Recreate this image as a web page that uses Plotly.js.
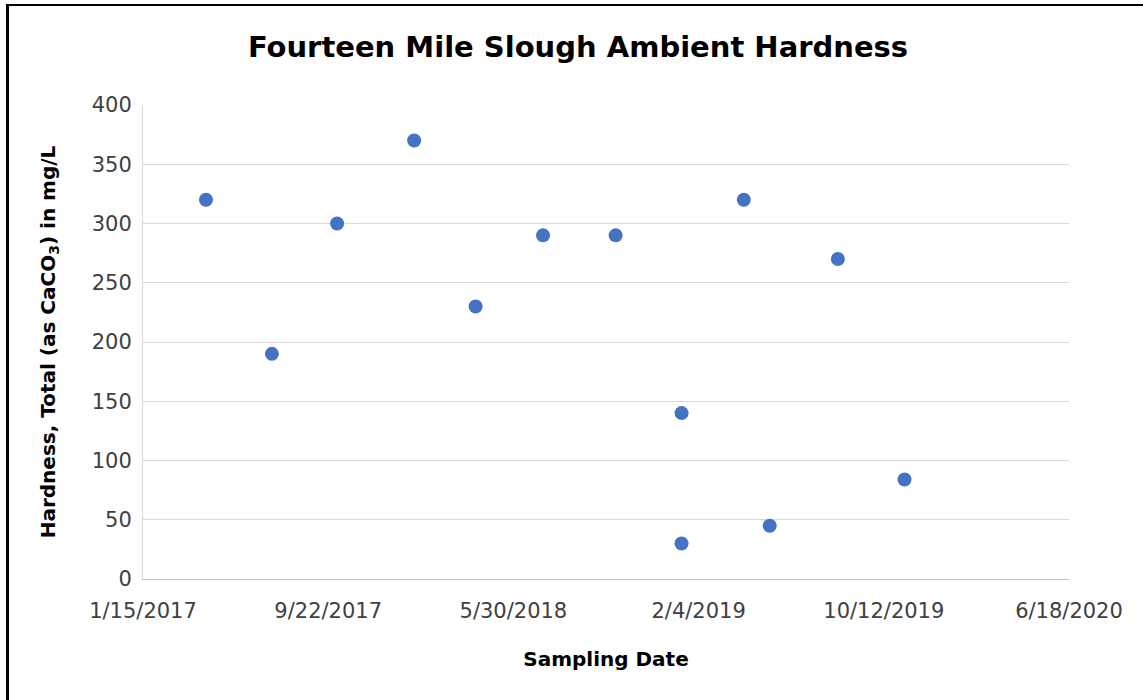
<!DOCTYPE html>
<html>
<head>
<meta charset="utf-8">
<script src="https://cdn.plot.ly/plotly-3.0.1.min.js"></script>
<style>
  html, body { margin: 0; padding: 0; background: #fff; }
  #wrap { position: relative; width: 1143px; height: 700px; }
  #chart { width: 1143px; height: 700px; }
  .frameL { position: absolute; left: 6px; top: 4px; width: 3px; height: 696px; background: #000; }
  .frameT { position: absolute; left: 6px; top: 4px; width: 1137px; height: 2px; background: #000; }
</style>
</head>
<body>
<div id="wrap">
  <div id="chart"></div>
  <div class="frameL"></div>
  <div class="frameT"></div>
</div>
<script>
// Sampling dates and hardness values (mg/L as CaCO3)
const sampleDates = [
  '2017-04-10', '2017-07-08', '2017-10-04', '2018-01-16', '2018-04-09',
  '2018-07-09', '2018-10-15', '2019-01-12', '2019-01-12', '2019-04-06',
  '2019-05-11', '2019-08-11', '2019-11-09'
];
const hardness = [320, 190, 300, 370, 230, 290, 290, 140, 30, 320, 45, 270, 84];

const xTickDates = ['2017-01-15', '2017-09-22', '2018-05-30', '2019-02-04', '2019-10-12', '2020-06-18'];
const xTickLabels = ['1/15/2017', '9/22/2017', '5/30/2018', '2/4/2019', '10/12/2019', '6/18/2020'];

const FONT = '"DejaVu Sans", sans-serif';

const trace = {
  type: 'scatter',
  mode: 'markers',
  x: sampleDates,
  y: hardness,
  marker: { color: '#4472C4', size: 14 },
  showlegend: false,
  hoverinfo: 'x+y'
};

const layout = {
  width: 1143,
  height: 700,
  paper_bgcolor: '#ffffff',
  plot_bgcolor: '#ffffff',
  margin: { l: 143, r: 74, t: 105, b: 121 },
  font: { family: FONT, color: '#404040', size: 20 },
  title: {
    text: 'Fourteen Mile Slough Ambient Hardness',
    font: { family: FONT, size: 29, color: '#000000', weight: 'bold' },
    x: 578 / 1143, xanchor: 'center',
    y: 1 - 47 / 700, yanchor: 'middle'
  },
  xaxis: {
    type: 'date',
    range: [xTickDates[0], xTickDates[xTickDates.length - 1]],
    tickmode: 'array',
    tickvals: xTickDates,
    ticktext: xTickLabels,
    showgrid: false,
    zeroline: false,
    showline: true,
    linecolor: '#bfbfbf',
    linewidth: 1,
    ticks: '',
    ticklabelstandoff: 13,
    tickfont: { family: FONT, size: 21, color: '#404040' },
    title: {
      text: 'Sampling Date',
      font: { family: FONT, size: 20, color: '#000000', weight: 'bold' },
      standoff: 29
    },
    automargin: false
  },
  yaxis: {
    range: [0, 400],
    tickmode: 'linear',
    tick0: 0,
    dtick: 50,
    showgrid: true,
    gridcolor: '#d9d9d9',
    gridwidth: 1,
    zeroline: false,
    showline: true,
    linecolor: '#d9d9d9',
    linewidth: 1,
    ticks: '',
    ticklabelstandoff: 6,
    tickfont: { family: FONT, size: 21, color: '#404040' },
    title: {
      text: 'Hardness, Total (as CaCO<sub>3</sub>) in mg/L',
      font: { family: FONT, size: 20, color: '#000000', weight: 'bold' },
      standoff: 30
    },
    automargin: false
  }
};

Plotly.newPlot('chart', [trace], layout, { displayModeBar: false, staticPlot: true });
</script>
</body>
</html>
